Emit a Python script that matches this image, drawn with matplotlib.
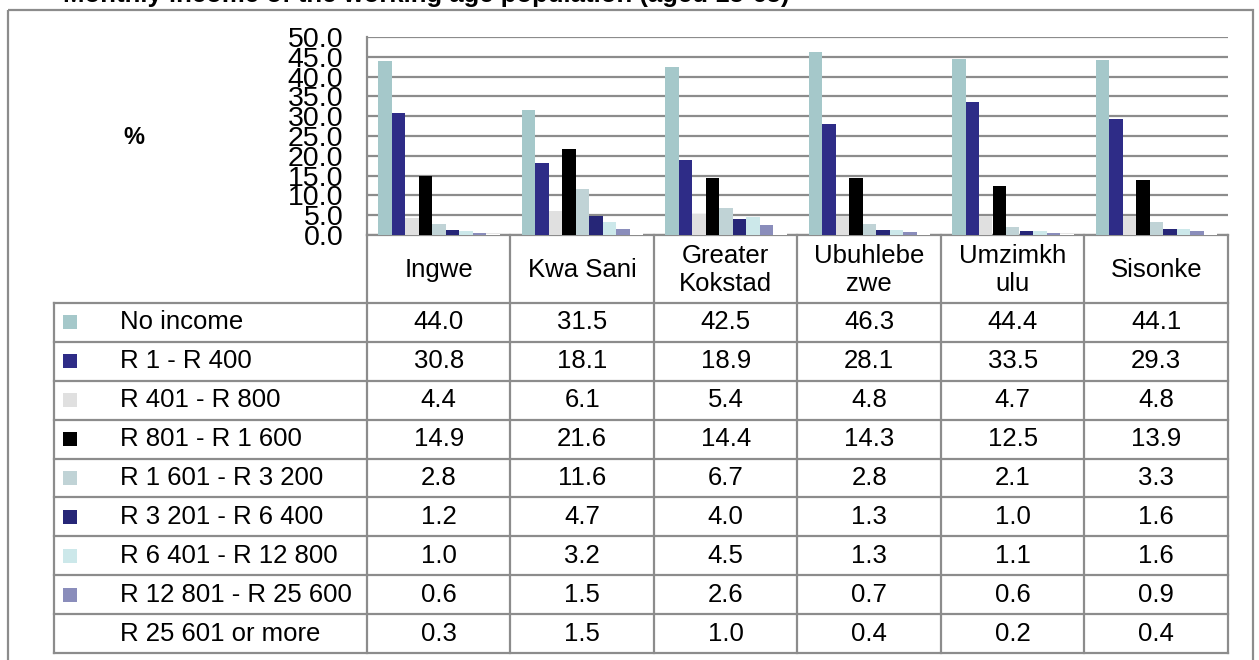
import matplotlib.pyplot as plt
from matplotlib.patches import Rectangle
import numpy as np

plt.rcParams['font.family'] = ['Liberation Sans', 'DejaVu Sans']

# 各地区 / 各收入段 (%)
municipalities = ['Ingwe', 'Kwa Sani', 'Greater\nKokstad', 'Ubuhlebe\nzwe', 'Umzimkh\nulu', 'Sisonke']
income_bands = ['No income', 'R 1 - R 400', 'R 401 - R 800', 'R 801 - R 1 600',
                'R 1 601 - R 3 200', 'R 3 201 - R 6 400', 'R 6 401 - R 12 800',
                'R 12 801 - R 25 600', 'R 25 601 or more']
no_income = [44.0, 31.5, 42.5, 46.3, 44.4, 44.1]
r1_400 = [30.8, 18.1, 18.9, 28.1, 33.5, 29.3]
r401_800 = [4.4, 6.1, 5.4, 4.8, 4.7, 4.8]
r801_1600 = [14.9, 21.6, 14.4, 14.3, 12.5, 13.9]
r1601_3200 = [2.8, 11.6, 6.7, 2.8, 2.1, 3.3]
r3201_6400 = [1.2, 4.7, 4.0, 1.3, 1.0, 1.6]
r6401_12800 = [1.0, 3.2, 4.5, 1.3, 1.1, 1.6]
r12801_25600 = [0.6, 1.5, 2.6, 0.7, 0.6, 0.9]
r25601_plus = [0.3, 1.5, 1.0, 0.4, 0.2, 0.4]
series = [no_income, r1_400, r401_800, r801_1600, r1601_3200,
          r3201_6400, r6401_12800, r12801_25600, r25601_plus]
colors = ['#a5c8ca', '#2e2c87', '#e0e0e0', '#000000', '#c0d3d6',
          '#262677', '#cce8ea', '#8a8dbb', '#ffffff']
yticks = np.arange(0, 50.1, 5)

W, H = 1259, 660
GRID = '#8c8c8c'
FS = 18.5

fig = plt.figure(figsize=(W / 100, H / 100), dpi=100)

# 像素坐标的覆盖层, 用于表格和边框
lay = fig.add_axes([0, 0, 1, 1])
lay.set_xlim(0, W)
lay.set_ylim(H, 0)
lay.axis('off')

# 图表区域
px_l, px_r, px_t, px_b = 367, 1228, 37, 235
ax = fig.add_axes([px_l / W, 1 - px_b / H, (px_r - px_l) / W, (px_b - px_t) / H])
ax.set_zorder(2)
n_grp = len(municipalities)
n_ser = len(series)
bw = 13.5 / 143.5
gap = (1 - n_ser * bw) / 2
x0 = np.arange(n_grp)
for j, (vals, c) in enumerate(zip(series, colors)):
    ax.bar(x0 + gap + j * bw, vals, width=bw, align='edge', color=c, linewidth=0, zorder=3)

ax.set_xlim(0, n_grp)
ax.set_ylim(0, 50)
ax.set_yticks(yticks)
ax.set_yticklabels([f'{v:.1f}' for v in yticks], fontsize=20.5)
ax.tick_params(axis='y', length=0, pad=17)
ax.set_xticks([])
ax.yaxis.grid(True, color=GRID, linewidth=1.6)
ax.set_axisbelow(True)
for s in ['top', 'right']:
    ax.spines[s].set_visible(False)
for s in ['left', 'bottom']:
    ax.spines[s].set_color(GRID)
    ax.spines[s].set_linewidth(1.6)
ax.patch.set_alpha(0)

# 外框
lay.add_patch(Rectangle((8, 9.5), 1245, 700, fill=False, edgecolor=GRID, linewidth=1.6))

# 标题 (页面顶部, 大部分在页外)
lay.text(790, 2, 'Monthly income of the working age population (aged 15-65)',
         ha='right', va='baseline', fontsize=18.5, fontweight='bold')
lay.text(134, 137, '%', ha='center', va='center', fontsize=17, fontweight='bold')

# 数据表
col_x = np.linspace(px_l, px_r, n_grp + 1)
hdr_b = 303
tbl_l, tbl_b = 54, 653
row_y = np.linspace(hdr_b, tbl_b, n_ser + 1)
lw = 1.6
for x in col_x:
    lay.plot([x, x], [px_b, tbl_b], color=GRID, lw=lw)
lay.plot([tbl_l, tbl_l], [hdr_b, tbl_b], color=GRID, lw=lw)
lay.plot([tbl_l, px_r], [hdr_b, hdr_b], color=GRID, lw=lw)
for y in row_y[1:]:
    lay.plot([tbl_l, px_r], [y, y], color=GRID, lw=lw)

for i, name in enumerate(municipalities):
    lay.text((col_x[i] + col_x[i + 1]) / 2, (px_b + hdr_b) / 2 + 1, name,
             ha='center', va='center', fontsize=FS, linespacing=1.2)

for r, (band, vals, c) in enumerate(zip(income_bands, series, colors)):
    yc = (row_y[r] + row_y[r + 1]) / 2
    lay.add_patch(Rectangle((63, yc - 7), 14, 14, color=c, linewidth=0))
    lay.text(120, yc, band, ha='left', va='center', fontsize=FS)
    for i, v in enumerate(vals):
        lay.text((col_x[i] + col_x[i + 1]) / 2, yc, f'{v:.1f}',
                 ha='center', va='center', fontsize=FS)

plt.savefig('out.png', dpi=100)
plt.close()
